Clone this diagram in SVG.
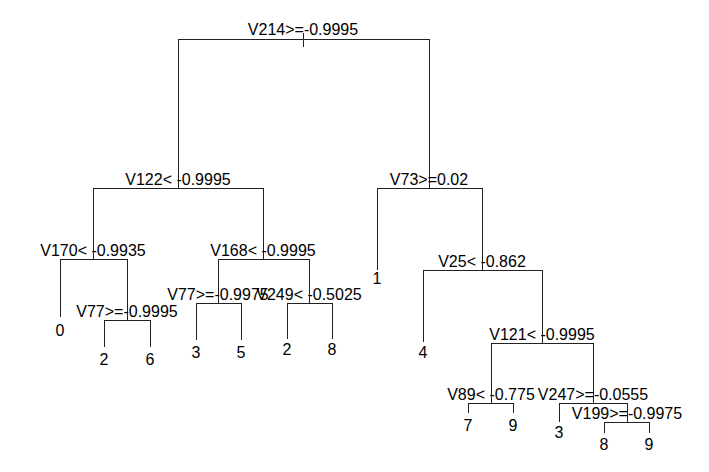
<svg xmlns="http://www.w3.org/2000/svg" width="709" height="472" viewBox="0 0 709 472">
<style>
text{font-family:"Liberation Sans",Arial,sans-serif;font-size:16px;fill:#000;text-anchor:middle}
.c line{stroke:#222;stroke-width:1}
</style>
<rect width="709" height="472" fill="#fff"/>
<g class="c" id="connectors">
<line x1="303.5" y1="33" x2="303.5" y2="47"/>
<line x1="178" y1="39.5" x2="430" y2="39.5"/>
<line x1="178.5" y1="39" x2="178.5" y2="188"/>
<line x1="429.5" y1="39" x2="429.5" y2="188"/>
<line x1="93" y1="188.5" x2="264" y2="188.5"/>
<line x1="377" y1="188.5" x2="483" y2="188.5"/>
<line x1="93.5" y1="188" x2="93.5" y2="259"/>
<line x1="263.5" y1="188" x2="263.5" y2="259"/>
<line x1="60" y1="259.5" x2="128" y2="259.5"/>
<line x1="218" y1="259.5" x2="310" y2="259.5"/>
<line x1="60.5" y1="259" x2="60.5" y2="317"/>
<line x1="127.5" y1="259" x2="127.5" y2="320"/>
<line x1="104" y1="320.5" x2="151" y2="320.5"/>
<line x1="104.5" y1="320" x2="104.5" y2="347"/>
<line x1="150.5" y1="320" x2="150.5" y2="347"/>
<line x1="218.5" y1="259" x2="218.5" y2="303"/>
<line x1="309.5" y1="259" x2="309.5" y2="303"/>
<line x1="196" y1="303.5" x2="242" y2="303.5"/>
<line x1="287" y1="303.5" x2="333" y2="303.5"/>
<line x1="196.5" y1="303" x2="196.5" y2="340"/>
<line x1="241.5" y1="303" x2="241.5" y2="340"/>
<line x1="287.5" y1="303" x2="287.5" y2="339"/>
<line x1="332.5" y1="303" x2="332.5" y2="339"/>
<line x1="377.5" y1="188" x2="377.5" y2="270"/>
<line x1="482.5" y1="188" x2="482.5" y2="270"/>
<line x1="423" y1="270.5" x2="543" y2="270.5"/>
<line x1="423.5" y1="270" x2="423.5" y2="342"/>
<line x1="542.5" y1="270" x2="542.5" y2="343"/>
<line x1="491" y1="343.5" x2="594" y2="343.5"/>
<line x1="491.5" y1="343" x2="491.5" y2="403"/>
<line x1="593.5" y1="343" x2="593.5" y2="403"/>
<line x1="468" y1="403.5" x2="514" y2="403.5"/>
<line x1="559" y1="403.5" x2="628" y2="403.5"/>
<line x1="468.5" y1="403" x2="468.5" y2="413"/>
<line x1="513.5" y1="403" x2="513.5" y2="413"/>
<line x1="559.5" y1="403" x2="559.5" y2="422"/>
<line x1="627.5" y1="403" x2="627.5" y2="422"/>
<line x1="604" y1="422.5" x2="650" y2="422.5"/>
<line x1="604.5" y1="422" x2="604.5" y2="433"/>
<line x1="649.5" y1="422" x2="649.5" y2="433"/>
</g>
<g id="n1"><text x="303" y="35">V214&gt;=-0.9995</text></g>
<g id="n2"><text x="178" y="185">V122&lt; -0.9995</text></g>
<g id="n3"><text x="429" y="185">V73&gt;=0.02</text></g>
<g id="n4"><text x="93" y="256">V170&lt; -0.9935</text></g>
<g id="n5"><text x="263" y="256">V168&lt; -0.9995</text></g>
<g id="n8"><text x="60" y="336">0</text></g>
<g id="n9"><text x="127" y="317">V77&gt;=-0.9995</text></g>
<g id="n18"><text x="104" y="365">2</text></g>
<g id="n19"><text x="150" y="365">6</text></g>
<g id="n10"><text x="218" y="300">V77&gt;=-0.9975</text></g>
<g id="n11"><text x="309" y="300">V249&lt; -0.5025</text></g>
<g id="n20"><text x="196" y="358">3</text></g>
<g id="n21"><text x="241" y="358">5</text></g>
<g id="n22"><text x="287" y="355">2</text></g>
<g id="n23"><text x="332" y="355">8</text></g>
<g id="n6"><text x="377" y="284">1</text></g>
<g id="n7"><text x="482" y="267">V25&lt; -0.862</text></g>
<g id="n14"><text x="423" y="358">4</text></g>
<g id="n15"><text x="542" y="340">V121&lt; -0.9995</text></g>
<g id="n30"><text x="491" y="400">V89&lt; -0.775</text></g>
<g id="n31"><text x="593" y="400">V247&gt;=-0.0555</text></g>
<g id="n60"><text x="468" y="431">7</text></g>
<g id="n61"><text x="513" y="431">9</text></g>
<g id="n62"><text x="559" y="438">3</text></g>
<g id="n63"><text x="627" y="419">V199&gt;=-0.9975</text></g>
<g id="n126"><text x="604" y="450">8</text></g>
<g id="n127"><text x="649" y="450">9</text></g>
</svg>
